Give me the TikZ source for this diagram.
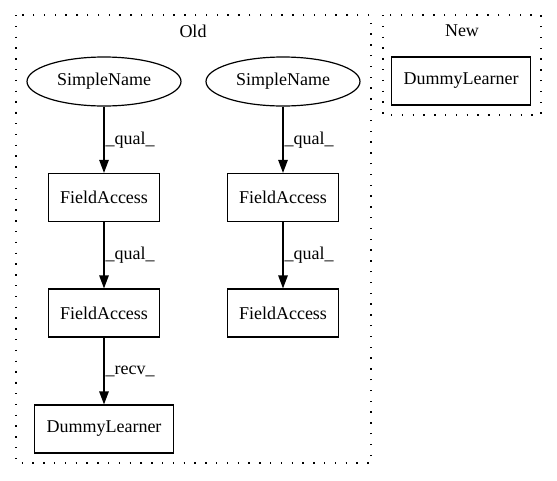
\documentclass[tikz,border=0pt]{standalone}
\usepackage{fontspec}
\setmainfont{Liberation Serif}
\usetikzlibrary{arrows.meta,shapes.geometric}
\begin{document}
\begin{tikzpicture}[x=1pt,y=-1pt,
  every node/.style={font=\fontsize{18}{20}\selectfont},
  box/.style={draw,line width=1.2pt,minimum height=48pt,inner sep=0pt},
  ell/.style={draw,line width=1.2pt,ellipse,minimum width=154pt,minimum height=49pt,inner sep=0pt},
  cluster/.style={draw,line width=1.3pt,dash pattern=on 1.4pt off 9.4pt},
  edge/.style={draw,line width=1.2pt,-{Triangle[length=13pt,width=9.5pt]}},
  elabel/.style={anchor=west,inner sep=1pt}]
\useasboundingbox (0,0) rectangle (557,480);
\draw[cluster] (16,15) rectangle (371,463);
\draw[cluster] (383,15) rectangle (541,115);
\node (old) at (193,31) {Old};
\node (new) at (462,31) {New};
\node[ell] (s1) at (104,81.5) {SimpleName};
\node[ell] (s2) at (283,81.5) {SimpleName};
\node[box,minimum width=111pt] (f1) at (104,197.5) {FieldAccess};
\node[box,minimum width=111pt] (f2) at (283,197.5) {FieldAccess};
\node[box,minimum width=111pt] (f3) at (104,313) {FieldAccess};
\node[box,minimum width=111pt] (f4) at (283,313) {FieldAccess};
\node[box,minimum width=139pt] (d1) at (104,429) {DummyLearner};
\node[box,minimum width=139pt] (d2) at (461,81) {DummyLearner};
\draw[edge] (s1) -- node[elabel,pos=0.5] {\_qual\_} (f1);
\draw[edge] (s2) -- node[elabel,pos=0.5] {\_qual\_} (f2);
\draw[edge] (f1) -- node[elabel,pos=0.5] {\_qual\_} (f3);
\draw[edge] (f2) -- node[elabel,pos=0.5] {\_qual\_} (f4);
\draw[edge] (f3) -- node[elabel,pos=0.5] {\_recv\_} (d1);
\end{tikzpicture}
\end{document}
